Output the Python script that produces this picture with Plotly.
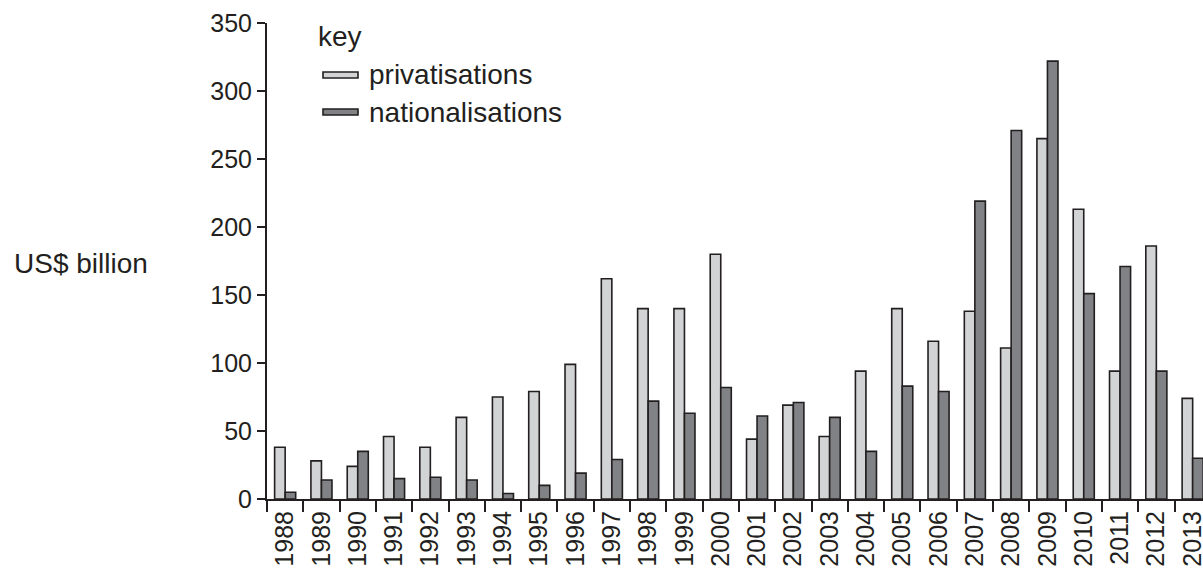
import plotly.graph_objects as go

years = [str(y) for y in range(1988, 2014)]
privatisations = [38, 28, 24, 46, 38, 60, 75, 79, 99, 162, 140, 140, 180, 44, 69, 46, 94, 140, 116, 138, 111, 265, 213, 94, 186, 74]
nationalisations = [5, 14, 35, 15, 16, 14, 4, 10, 19, 29, 72, 63, 82, 61, 71, 60, 35, 83, 79, 219, 271, 322, 151, 171, 94, 30]
y_ticks = [0, 50, 100, 150, 200, 250, 300, 350]
series_names = ["privatisations", "nationalisations"]
series_colors = ["#d2d3d5", "#808285"]

FONT = "Liberation Sans, Arial, sans-serif"
INK = "#231f20"

fig = go.Figure()
for name, vals, col in zip(series_names, [privatisations, nationalisations], series_colors):
    fig.add_trace(go.Bar(x=years, y=vals, name=name, showlegend=False,
                         marker=dict(color=col, line=dict(color=INK, width=1.6))))

W, H = 1203, 570
PL, PT, PB = 267, 23, 499          # plot left/top/bottom in window pixels
L, T = PL, PT
B = H - PB
R = 0
pw = W - L - R
ph = H - T - B
group = 36.3
vis = pw / group


def px(x):
    return (x - PL) / pw


def py(y):
    return (PB - y) / ph


shapes = []
annotations = [dict(text="US$ billion", xref="paper", yref="paper", x=px(12), y=py(263),
                    xanchor="left", yanchor="middle", showarrow=False,
                    font=dict(size=28, color=INK, family=FONT)),
               dict(text="key", xref="paper", yref="paper", x=px(316), y=py(36),
                    xanchor="left", yanchor="middle", showarrow=False,
                    font=dict(size=28, color=INK, family=FONT))]
for i, (name, col) in enumerate(zip(series_names, series_colors)):
    cy = 75 + i * 37
    shapes.append(dict(type="rect", xref="paper", yref="paper",
                       x0=px(323), x1=px(358), y0=py(cy + 3), y1=py(cy - 3),
                       fillcolor=col, line=dict(color=INK, width=1.6)))
    annotations.append(dict(text=name, xref="paper", yref="paper", x=px(367), y=py(cy),
                            xanchor="left", yanchor="middle", showarrow=False,
                            font=dict(size=28, color=INK, family=FONT)))

fig.update_layout(
    width=W, height=H,
    margin=dict(l=L, r=R, t=T, b=B, autoexpand=False),
    plot_bgcolor="white", paper_bgcolor="white",
    barmode="group", bargap=0.42, bargroupgap=0,
    font=dict(family=FONT, size=25, color=INK),
    showlegend=False,
    xaxis=dict(
        type="category", range=[-0.5, -0.5 + vis],
        showline=True, linecolor=INK, linewidth=2,
        ticks="outside", ticklen=11, tickwidth=2, tickcolor=INK,
        tickson="boundaries", tickangle=-90, tickfont=dict(size=25, color=INK),
        showgrid=False, zeroline=False, automargin=False,
    ),
    yaxis=dict(
        range=[0, 350], tickvals=y_ticks,
        showline=True, linecolor=INK, linewidth=2,
        ticks="outside", ticklen=8, tickwidth=2, tickcolor=INK,
        tickfont=dict(size=25, color=INK),
        showgrid=False, zeroline=False, automargin=False,
    ),
    shapes=shapes,
    annotations=annotations,
)

fig.write_html("out.html", config={"displayModeBar": False},
               post_script="document.body.style.margin='0';document.body.style.overflow='hidden';")
